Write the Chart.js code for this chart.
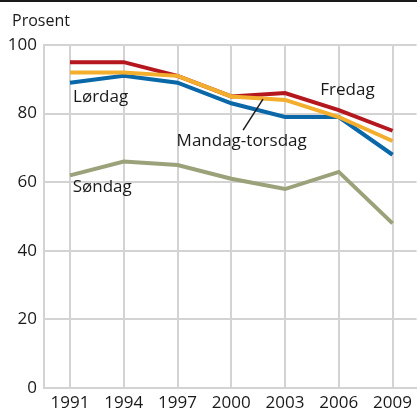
<!DOCTYPE html>
<html>
<head>
<meta charset="utf-8">
<script src="https://cdn.jsdelivr.net/npm/chart.js@4/dist/chart.umd.min.js"></script>
<style>
  html, body { margin: 0; padding: 0; background: #fff; }
  #wrap { width: 417px; height: 411px; }
</style>
</head>
<body>
<div id="wrap"><canvas id="chart" width="417" height="411"></canvas></div>
<script>
// data
const years = [1991, 1994, 1997, 2000, 2003, 2006, 2009];
const mandagTorsdag = [92, 92, 91, 85, 84, 79, 72];
const fredag = [95, 95, 91, 85, 86, 81, 75];
const lordag = [89, 91, 89, 83, 79, 79, 68];
const sondag = [62, 66, 65, 61, 58, 63, 48];
const yTicks = [0, 20, 40, 60, 80, 100];

const FONT = "'Open Sans', 'Noto Sans', sans-serif";
const GRID = '#d3d3d3';

const toPoints = (vals) => vals.map((v, i) => ({ x: years[i], y: v }));

// labels placed in data units
const labels = [
    { text: 'Lørdag', x: 1991.17, y: 84.9 },
    { text: 'Fredag', x: 2004.97, y: 86.9 },
    { text: 'Mandag-torsdag', x: 1996.95, y: 72.1 },
    { text: 'Søndag', x: 1991.15, y: 58.7 }
];
const leader = { x1: 2000.66, y1: 75.2, x2: 2001.77, y2: 84.2 };

const extras = {
    id: 'extras',
    afterDraw(chart) {
        const ctx = chart.ctx;
        const xs = chart.scales.x, ys = chart.scales.y;
        ctx.save();
        // top rule
        ctx.fillStyle = '#1a1a1a';
        ctx.fillRect(0, 0, chart.width, 2);
        // unit
        ctx.font = '16px ' + FONT;
        ctx.fillStyle = '#1a1a1a';
        ctx.textBaseline = 'middle';
        ctx.textAlign = 'left';
        ctx.fillText('Prosent', 12, 21);
        // series labels
        ctx.font = '17px ' + FONT;
        labels.forEach(l => {
            ctx.fillText(l.text, xs.getPixelForValue(l.x), ys.getPixelForValue(l.y));
        });
        ctx.strokeStyle = '#1a1a1a';
        ctx.lineWidth = 1.5;
        ctx.beginPath();
        ctx.moveTo(xs.getPixelForValue(leader.x1), ys.getPixelForValue(leader.y1));
        ctx.lineTo(xs.getPixelForValue(leader.x2), ys.getPixelForValue(leader.y2));
        ctx.stroke();
        ctx.restore();
    }
};

const line = (data, color) => ({
    data: toPoints(data),
    borderColor: color,
    borderWidth: 4,
    pointRadius: 0,
    tension: 0,
    fill: false
});

new Chart(document.querySelector('#chart').getContext('2d'), {
    type: 'line',
    data: {
        datasets: [
            line(mandagTorsdag, '#f2ae2c'),
            line(fredag, '#b5171f'),
            line(lordag, '#0a68a8'),
            line(sondag, '#9ba27a')
        ]
    },
    options: {
        responsive: false,
        animation: false,
        layout: { padding: { top: 45, right: 0, left: 0, bottom: 0 } },
        plugins: { legend: { display: false }, tooltip: { enabled: false } },
        scales: {
            x: {
                type: 'linear',
                min: 1989.55,
                max: 2010.34,
                afterBuildTicks: (s) => { s.ticks = years.map(v => ({ value: v })); },
                afterFit: (s) => { s.height = 23; },
                grid: { color: GRID, lineWidth: 2, drawTicks: false },
                border: { color: GRID, width: 2 },
                ticks: {
                    padding: 5,
                    autoSkip: false,
                    maxRotation: 0,
                    color: '#1a1a1a',
                    font: { family: FONT, size: 17 },
                    callback: (v) => String(v)
                }
            },
            y: {
                min: 0,
                max: 100,
                afterBuildTicks: (s) => { s.ticks = yTicks.map(v => ({ value: v })); },
                afterFit: (s) => { s.width = 44; },
                grid: { color: GRID, lineWidth: 2, drawTicks: false },
                border: { color: GRID, width: 2 },
                ticks: {
                    padding: 7,
                    color: '#1a1a1a',
                    font: { family: FONT, size: 17 }
                }
            }
        }
    },
    plugins: [extras]
});
</script>
</body>
</html>
